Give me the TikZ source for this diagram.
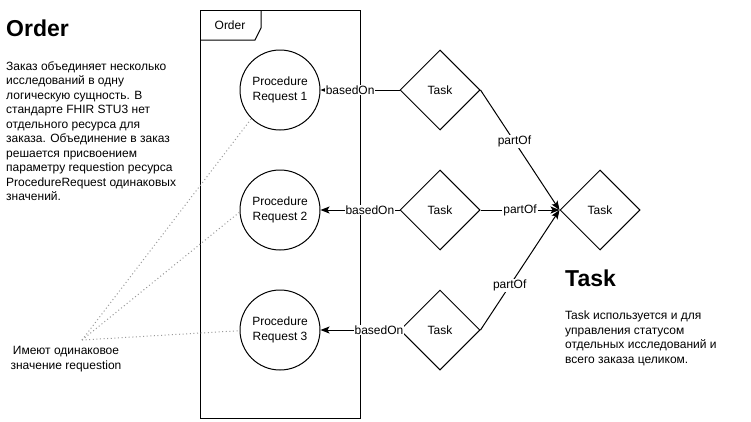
\documentclass[tikz,border=0pt]{standalone}
\usepackage{fontspec}
\setmainfont{Liberation Sans}
\usetikzlibrary{shapes.geometric,arrows.meta}
\begin{document}
\begin{tikzpicture}[x=1pt,y=-1pt,
  every node/.style={inner sep=0pt},
  base/.style={font=\fontsize{12}{15}\selectfont},
  prc/.style={base,draw,circle,line width=1pt,minimum size=80pt,align=center},
  tsk/.style={base,draw,diamond,line width=1pt,minimum width=80pt,minimum height=80pt},
  lbl/.style={base,fill=white,inner sep=1pt},
  arr/.style={line width=1pt,-{Stealth[length=9pt,width=7pt,inset=2pt]}},
  dotln/.style={gray!80,line width=1pt,dash pattern=on 1pt off 2.6pt},
  para/.style={font=\fontsize{12}{14.5}\selectfont,align=left,anchor=north west},
  head/.style={font=\fontsize{23}{27}\selectfont\bfseries,anchor=west}
]
\useasboundingbox[fill=white] (0,0) rectangle (751,421);
% frame
\draw[line width=1pt] (200,10) rectangle (360,418);
\draw[line width=1pt] (200,40) -- (255,40) -- (261,28) -- (261,10);
\node[base] (frm) at (230,25) {Order};
% procedure requests
\node[prc] (pr1) at (280,90) {Procedure\\Request 1};
\node[prc] (pr2) at (280,210) {Procedure\\Request 2};
\node[prc] (pr3) at (280,330) {Procedure\\Request 3};
% tasks
\node[tsk] (t1) at (440,90) {Task};
\node[tsk] (t2) at (440,210) {Task};
\node[tsk] (t3) at (440,330) {Task};
\node[tsk] (tb) at (600,210) {Task};
% basedOn
\draw[arr] (t1) -- node[lbl,pos=0.625] {basedOn} (pr1);
\draw[arr] (t2) -- node[lbl,pos=0.375] {basedOn} (pr2);
\draw[arr] (t3) -- node[lbl,pos=0.26] {basedOn} (pr3);
% partOf
\draw[arr] (t1.east) -- node[lbl,pos=0.43] {partOf} (tb.west);
\draw[arr] (t2.east) -- node[lbl,pos=0.5] {partOf} (tb.west);
\draw[arr] (t3.east) -- node[lbl,pos=0.37] {partOf} (tb.west);
% dotted
\coordinate (dp) at (82,340);
\draw[dotln] (dp) -- (pr1.225);
\draw[dotln] (dp) -- (pr2.183);
\draw[dotln] (dp) -- (pr3.181);
% texts
\node[head] (h1) at (6,28) {Order};
\node[para] (p1) at (6,61) {Заказ объединяет несколько\\исследований в одну\\логическую сущность. В\\стандарте FHIR STU3 нет\\отдельного ресурса для\\заказа. Объединение в заказ\\решается присвоением\\параметру requestion ресурса\\ProcedureRequest одинаковых\\значений.};
\node[base,align=center] (n1) at (66,359) {Имеют одинаковое\\значение requestion};
\node[head] (h2) at (565,278) {Task};
\node[para] (p2) at (565,311) {Task используется и для\\управления статусом\\отдельных исследований и\\всего заказа целиком.};
\end{tikzpicture}
\end{document}
